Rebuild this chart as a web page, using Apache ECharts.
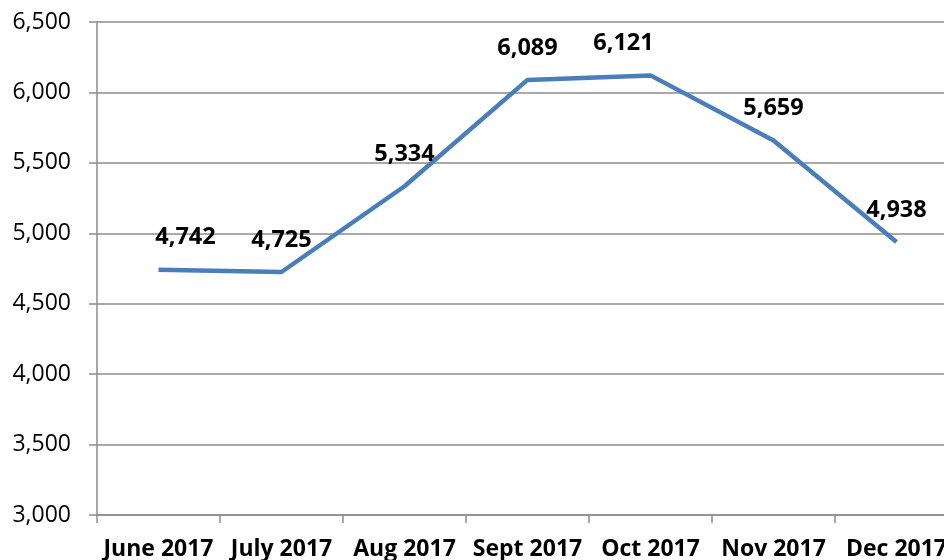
<!DOCTYPE html>
<html lang="en">
<head>
    <meta charset="UTF-8">
    <title>Monthly totals</title>
    <style>
        html, body { margin: 0; padding: 0; background: #fff; }
    </style>
</head>
<body>
<div id="main" style="width: 944px;height:560px;"></div>
<script src="https://cdn.jsdelivr.net/npm/echarts@6/dist/echarts.min.js"></script>
<script>
    var months = ['June 2017', 'July 2017', 'Aug 2017', 'Sept 2017', 'Oct 2017', 'Nov 2017', 'Dec 2017'];
    var totals = [4742, 4725, 5334, 6089, 6121, 5659, 4938];

    var myChart = echarts.init(document.getElementById('main'));

    // June and Oct labels sit a bit off-centre in the original
    var points = totals.map(function (v, i) {
        var item = { value: v };
        if (i === 0) item.label = { offset: [27, 0] };
        if (i === 4) item.label = { offset: [-27, 0] };
        return item;
    });

    var option = {
        backgroundColor: '#ffffff',
        animation: false,
        grid: {
            left: 97,
            width: 861,
            top: 22,
            bottom: 45,
            outerBoundsMode: 'none'
        },
        xAxis: {
            type: 'category',
            data: months,
            boundaryGap: true,
            axisLine: { lineStyle: { color: '#8c8c8c', width: 1.5 } },
            axisTick: { show: true, length: 8, lineStyle: { color: '#8c8c8c', width: 1.5 } },
            axisLabel: {
                color: '#000',
                fontFamily: 'Open Sans',
                fontWeight: 'bold',
                fontSize: 23,
                margin: 23,
                interval: 0
            }
        },
        yAxis: {
            type: 'value',
            min: 3000,
            max: 6500,
            interval: 500,
            axisLine: { show: true, lineStyle: { color: '#8c8c8c', width: 1.5 } },
            axisTick: { show: true, length: 8, lineStyle: { color: '#8c8c8c', width: 1.5 } },
            splitLine: { lineStyle: { color: '#8c8c8c', width: 1.5 } },
            axisLabel: {
                color: '#000',
                fontFamily: 'Open Sans',
                fontSize: 23,
                margin: 26,
                formatter: function (v) { return v.toLocaleString('en-US'); }
            }
        },
        series: [
            {
                type: 'line',
                data: points,
                showSymbol: true,
                symbol: 'circle',
                symbolSize: 0.1,
                lineStyle: { color: '#4a7ebb', width: 4.5 },
                itemStyle: { color: '#4a7ebb' },
                label: {
                    show: true,
                    position: 'top',
                    distance: 20,
                    color: '#000',
                    fontFamily: 'Open Sans',
                    fontWeight: 'bold',
                    fontSize: 23.5,
                    formatter: function (p) { return p.value.toLocaleString('en-US'); }
                }
            }
        ]
    };

    myChart.setOption(option);
</script>
</body>
</html>
